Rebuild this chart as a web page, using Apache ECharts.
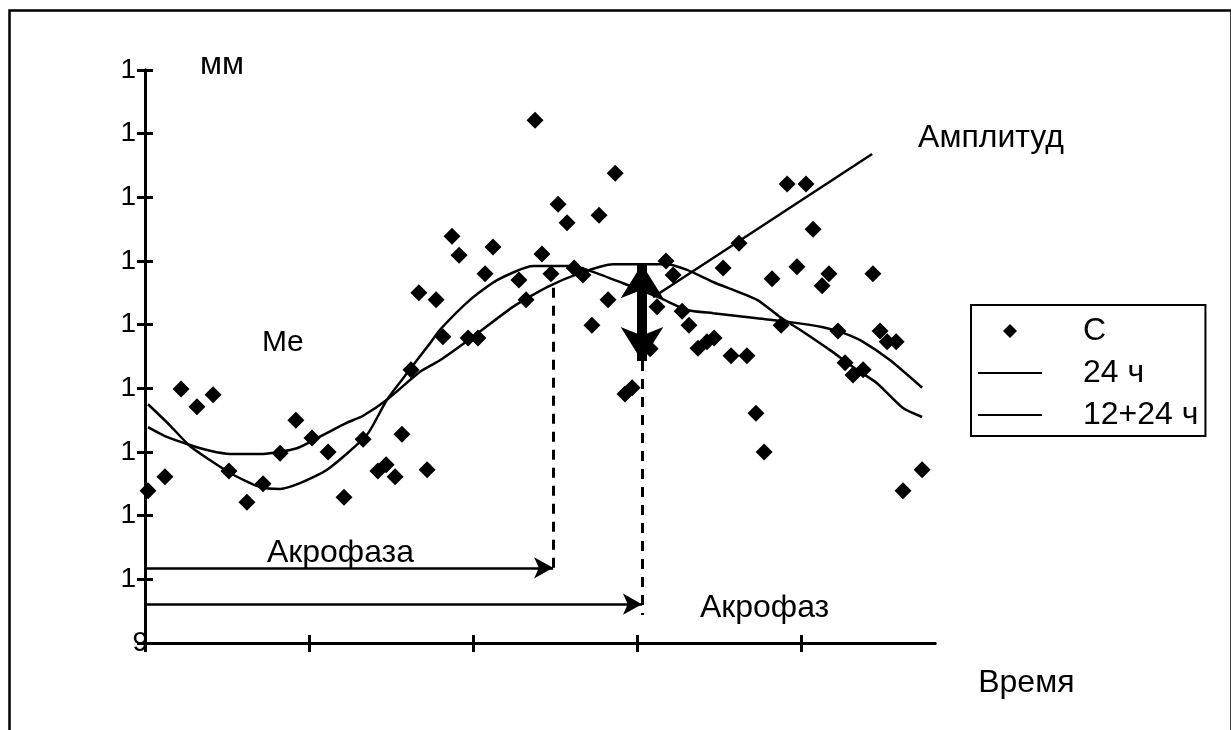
<!DOCTYPE html>
<html><head><meta charset="utf-8">
<script src="https://cdn.jsdelivr.net/npm/echarts@6/dist/echarts.min.js"></script>
<style>html,body{margin:0;padding:0;background:#fff}#c{width:1231px;height:730px}</style>
</head><body><div id="c"></div>
<script>
const FONT = '"Liberation Sans", Arial, sans-serif';

// Observed values (C), hours vs. level
const scatterX = [0.11,0.73,1.32,1.90,2.49,3.07,3.73,4.32,4.94,5.52,6.11,6.70,7.28,7.98,8.52,8.82,9.15,9.40,9.73,10.02,10.32,10.65,10.90,11.23,11.49,11.82,12.18,12.44,12.73,13.68,13.94,14.27,14.52,14.85,15.11,15.44,15.70,16.02,16.35,16.61,16.94,17.20,17.56,17.82,18.48,18.73,19.06,19.32,19.65,19.90,20.23,20.56,20.82,21.15,21.44,21.73,22.02,22.35,22.65,22.94,23.27,23.49,23.85,24.18,24.44,24.77,25.02,25.35,25.61,25.90,26.27,26.63,26.89,27.15,27.48,27.73,28.43];
const scatterY = [2.39,2.61,3.99,3.71,3.90,2.70,2.21,2.50,2.98,3.50,3.22,3.00,2.29,3.20,2.70,2.80,2.61,3.28,4.29,5.50,2.72,5.39,4.81,6.39,6.09,4.79,4.79,5.80,6.22,5.70,5.39,8.21,6.11,5.80,6.89,6.60,5.89,5.78,4.99,6.72,5.39,7.38,3.91,4.01,4.62,5.28,6.00,5.78,5.21,4.99,4.63,4.73,4.79,5.89,4.51,6.28,4.51,3.61,3.00,5.72,4.99,7.21,5.91,7.21,6.50,5.61,5.80,4.90,4.40,4.21,4.29,5.80,4.90,4.73,4.73,2.39,2.72];

// Fitted curve "24 ч"
const curve24X = [0.11,0.73,1.65,2.38,3.11,4.32,5.56,6.40,7.39,7.98,8.85,10.06,10.79,12.00,13.46,14.71,15.91,17.12,19.10,19.83,20.78,22.39,23.23,23.96,25.06,26.05,26.78,27.73,28.43];
const curve24Y = [3.39,3.25,3.11,3.02,2.97,2.97,3.06,3.24,3.46,3.57,3.82,4.26,4.44,4.81,5.28,5.59,5.81,5.95,5.95,5.86,5.67,5.39,5.12,4.92,4.60,4.29,4.08,3.69,3.55];

// Fitted curve "12+24 ч"
const curve1224X = [0.11,0.91,1.65,3.11,4.21,4.94,5.67,6.66,8.12,8.85,9.59,10.43,10.79,11.89,12.88,14.20,15.55,16.39,17.49,18.84,19.83,20.78,22.39,23.60,24.80,25.54,26.27,27.26,28.43];
const curve1224Y = [3.75,3.42,3.09,2.67,2.45,2.42,2.51,2.72,3.27,3.82,4.24,4.71,4.92,5.39,5.70,5.92,5.92,5.83,5.65,5.42,5.23,5.18,5.10,5.04,4.96,4.87,4.73,4.44,4.01];

// Axis ticks
const yTickValues = [0,1,2,3,4,5,6,7,8,9];
const yTickLabels = ['9','1','1','1','1','1','1','1','1','1'];
const xTickValues = [0,6,12,18,24];

// Annotation values
const medianLevel = 4.43;
const medianFromX = 0.73, medianToX = 29.27;
const acrophase1224 = 14.93, acrophase1224Top = 5.58, acrophase1224Bottom = 1.10;
const acrophase24 = 18.18, acrophase24Bottom = 0.44;
const peak24 = 5.95;
const acroArrow1Y = 1.18, acroArrow2Y = 0.61;
const amplitudeLineX = [18.59, 26.60];
const amplitudeLineY = [5.43, 7.68];
const noteText = ['Me','Акрофаза','Акрофаз','Амплитуд','мм','Время'];
const noteX = [4.28, 4.46, 20.30, 28.28, 2.01, 30.48];
const noteY = [4.71, 1.41, 0.55, 7.93, 9.08, -0.63];
const noteSize = [30, 32, 32, 32, 32, 32];

const zip = (xs, ys) => xs.map((x, i) => [x, ys[i]]);

const chart = echarts.init(document.getElementById('c'), null, {renderer: 'canvas'});
const black = '#000';
const baseX = {type:'value', min:0, max:28.9, position:'bottom', splitLine:{show:false},
  axisLine:{show:true, onZero:false, lineStyle:{color:black, width:3}},
  axisLabel:{show:false}};
const baseY = {type:'value', min:0, max:9, interval:1, position:'left', splitLine:{show:false},
  axisLine:{show:true, onZero:false, lineStyle:{color:black, width:3}}};

const diamondIcon = 'path://M-32,0 M32,0 M0,-7 L7,0 L0,7 L-7,0 Z';
const lineIcon = 'path://M0,-7 M0,7 M0,-1.1 L64,-1.1 L64,1.1 L0,1.1 Z';

const option = {
  animation:false,
  backgroundColor:'#fff',
  textStyle:{fontFamily:FONT},
  grid:{left:145, right:296, top:70, bottom:87, containLabel:false},
  xAxis:[
    Object.assign({}, baseX, {axisTick:{show:true, inside:false, length:9, customValues:xTickValues, lineStyle:{color:black, width:3}}}),
    Object.assign({}, baseX, {axisTick:{show:true, inside:true, length:8, customValues:xTickValues, lineStyle:{color:black, width:3}}})
  ],
  yAxis:[
    Object.assign({}, baseY, {axisTick:{show:true, inside:false, length:8, lineStyle:{color:black, width:3}},
      axisLabel:{show:true, margin:9, color:black, fontSize:28, fontFamily:FONT,
        formatter:(v)=> v===0 ? '' : yTickLabels[yTickValues.indexOf(v)]}}),
    Object.assign({}, baseY, {axisTick:{show:true, inside:true, length:8, lineStyle:{color:black, width:3}},
      axisLabel:{show:true, margin:-3, color:black, fontSize:28, fontFamily:FONT,
        formatter:(v)=> v===0 ? yTickLabels[0] : ''}})
  ],
  legend:{
    orient:'vertical', left:971, top:305, padding:[10,7,5,7],
    itemWidth:64, itemHeight:14, itemGap:10,
    borderColor:black, borderWidth:2, backgroundColor:'#fff',
    textStyle:{fontSize:32, color:black, fontFamily:FONT, lineHeight:30, padding:[0,0,0,36]},
    data:[{name:'С', icon:diamondIcon}, {name:'24 ч', icon:lineIcon}, {name:'12+24 ч', icon:lineIcon}]
  },
  graphic:[{type:'rect', left:7, top:8, z:-1, silent:true,
    shape:{width:1222, height:780}, style:{fill:'none', stroke:'#000', lineWidth:2.5}}],
  series:[
    {name:'24 ч', type:'line', data:zip(curve24X, curve24Y), symbol:'none', smooth:0.2,
      lineStyle:{color:black, width:2.5}, itemStyle:{color:black}, z:3},
    {name:'12+24 ч', type:'line', data:zip(curve1224X, curve1224Y), symbol:'none', smooth:0.2,
      lineStyle:{color:black, width:2.5}, itemStyle:{color:black}, z:3},
    {name:'С', type:'scatter', data:zip(scatterX, scatterY), symbol:'diamond', symbolSize:17,
      itemStyle:{color:black, opacity:1}, z:4},
    {name:'amp', type:'line', data:zip(amplitudeLineX, amplitudeLineY), symbol:'none',
      lineStyle:{color:black, width:2.5}, z:3},
    {name:'notes', type:'scatter', clip:false, symbolSize:0, silent:true, z:5,
      itemStyle:{opacity:1, color:black},
      data:noteText.map((t,i)=>({value:[noteX[i], noteY[i]], name:t,
        label:{show:true, position:'inside', align:'left', verticalAlign:'middle', formatter:t,
          fontSize:noteSize[i], color:black, opacity:1, fontFamily:FONT}})),
      markLine:{silent:true, animation:false, precision:4, label:{show:false},
        data:[
          [{coord:[medianFromX, medianLevel], symbol:'none', lineStyle:{type:[3,9], width:3, color:black}},
           {coord:[medianToX, medianLevel], symbol:'none'}],
          [{coord:[acrophase1224, acrophase1224Top], symbol:'none', lineStyle:{type:[10,8], width:3, color:black}},
           {coord:[acrophase1224, acrophase1224Bottom], symbol:'none'}],
          [{coord:[acrophase24, medianLevel], symbol:'none', lineStyle:{type:[10,8], width:3, color:black}},
           {coord:[acrophase24, acrophase24Bottom], symbol:'none'}],
          [{coord:[0, acroArrow1Y], symbol:'none', lineStyle:{type:'solid', width:2.5, color:black}},
           {coord:[acrophase1224, acroArrow1Y], symbol:'arrow', symbolSize:[16, 19]}],
          [{coord:[0, acroArrow2Y], symbol:'none', lineStyle:{type:'solid', width:2.5, color:black}},
           {coord:[acrophase24, acroArrow2Y], symbol:'arrow', symbolSize:[16, 19]}],
          [{coord:[acrophase24, medianLevel], symbol:'arrow', symbolSize:[32, 34], lineStyle:{type:'solid', width:10, color:black}},
           {coord:[acrophase24, peak24], symbol:'arrow', symbolSize:[32, 34]}]
        ]}
    }
  ]
};
chart.setOption(option);
</script></body></html>
